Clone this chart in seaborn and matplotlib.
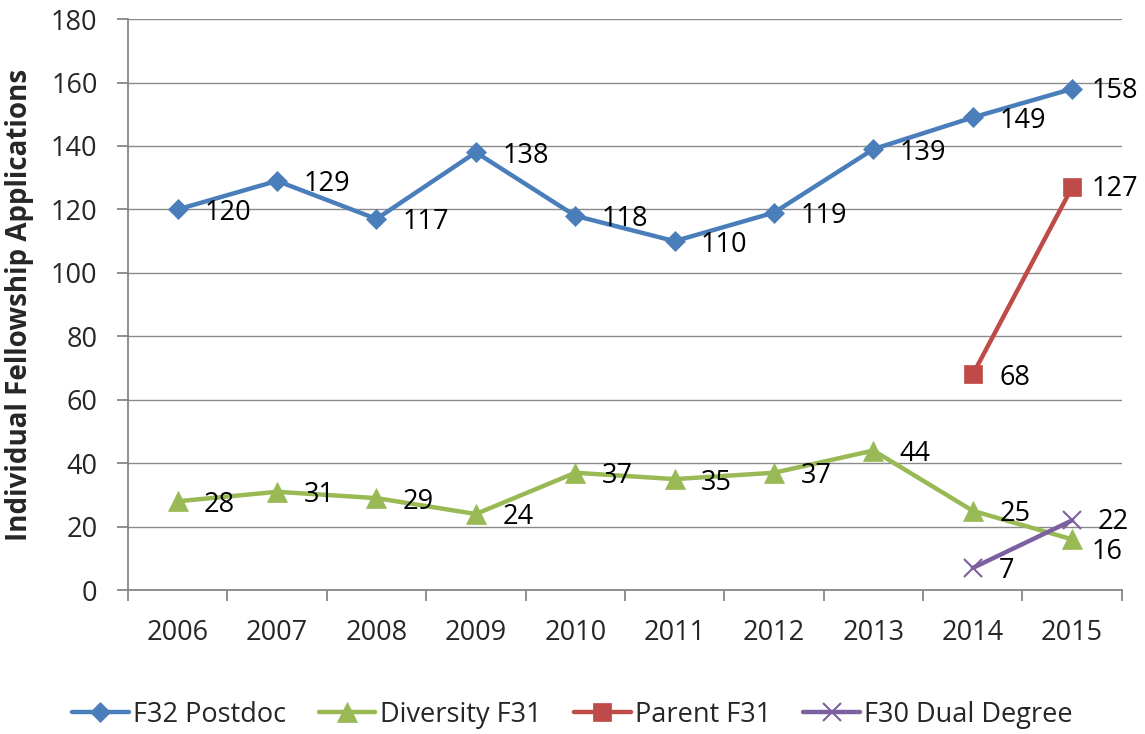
import numpy as np
import pandas as pd
import matplotlib
matplotlib.use("Agg")
import matplotlib.pyplot as plt
from matplotlib.ticker import FixedLocator
import seaborn as sns

years = [2006, 2007, 2008, 2009, 2010, 2011, 2012, 2013, 2014, 2015]
series_names = ["F32 Postdoc", "Diversity F31", "Parent F31", "F30 Dual Degree"]
f32_postdoc = [120, 129, 117, 138, 118, 110, 119, 139, 149, 158]
diversity_f31 = [28, 31, 29, 24, 37, 35, 37, 44, 25, 16]
parent_f31 = [None, None, None, None, None, None, None, None, 68, 127]
f30_dual = [None, None, None, None, None, None, None, None, 7, 22]

colors = ["#4A7EBB", "#98B954", "#BE4B48", "#7D60A0"]
marker_styles = ["D", "^", "s", "x"]
marker_sizes = [10.5, 14, 13.5, 13.5]

# value labels sit to the right of each point; a few are nudged to stay
# inside the figure or clear of neighbouring labels
default_offset = (19, -2.5)
label_offsets = {
    ("F32 Postdoc", 2015): (14, -1.5),
    ("Parent F31", 2015): (14, -1.5),
    ("Diversity F31", 2015): (14, -9),
    ("F30 Dual Degree", 2015): (18.5, -1.5),
}

frames = []
for name, vals in zip(series_names, [f32_postdoc, diversity_f31, parent_f31, f30_dual]):
    frames.append(pd.DataFrame({"year": years, "value": vals, "series": name}))
df = pd.concat(frames, ignore_index=True).dropna()

sns.set_style("white")
plt.rcParams["font.family"] = ["Open Sans", "DejaVu Sans"]

fig = plt.figure(figsize=(11.45, 7.34), dpi=100)
ax = fig.add_axes([0.1118, 0.196, 0.868, 0.778])

ax.set_axisbelow(True)
ax.grid(axis="y", color="#8A8A8A", linewidth=1.0)
ax.grid(axis="x", visible=False)

for name, col, mk, ms in zip(series_names, colors, marker_styles, marker_sizes):
    sub = df[df["series"] == name]
    sns.lineplot(data=sub, x="year", y="value", ax=ax, color=col, linewidth=3.2,
                 marker=mk, markersize=ms, markeredgecolor=col,
                 markeredgewidth=1.5 if mk == "x" else 0.5,
                 label=name, legend=False, zorder=3)
    for x, v in zip(sub["year"], sub["value"]):
        off = label_offsets.get((name, int(x)), default_offset)
        ax.annotate(f"{int(v)}", (x, v), xytext=off, textcoords="offset points",
                    ha="left", va="center", fontsize=19.5, color="black",
                    annotation_clip=False, zorder=4)

ax.set_xlim(2005.5, 2015.5)
ax.set_ylim(0, 180)
ax.set_yticks(np.arange(0, 181, 20))
ax.set_xticks(years)
ax.xaxis.set_minor_locator(FixedLocator(np.arange(2005.5, 2016, 1.0)))
ax.tick_params(axis="x", which="major", length=0, pad=21, labelsize=19.5)
ax.tick_params(axis="x", which="minor", length=8, width=1.3, color="#868686", direction="out", bottom=True)
ax.tick_params(axis="y", which="major", length=8, width=1.3, color="#868686", direction="out", pad=14, labelsize=19.5, left=True)

for side in ["top", "right"]:
    ax.spines[side].set_visible(False)
for side in ["left", "bottom"]:
    ax.spines[side].set_color("#868686")
    ax.spines[side].set_linewidth(1.3)

ax.set_xlabel("")
ax.set_ylabel("Individual Fellowship Applications", fontsize=20, fontweight="bold")
ax.yaxis.set_label_coords(-0.095, 0.5)

handles, labels = ax.get_legend_handles_labels()
fig.legend(handles, labels, loc="center", bbox_to_anchor=(0.5, 0.026), ncol=4, frameon=False,
           fontsize=19.5, handlelength=2.1, handletextpad=0.15, columnspacing=1.2)

fig.savefig("out.png", dpi=100)
